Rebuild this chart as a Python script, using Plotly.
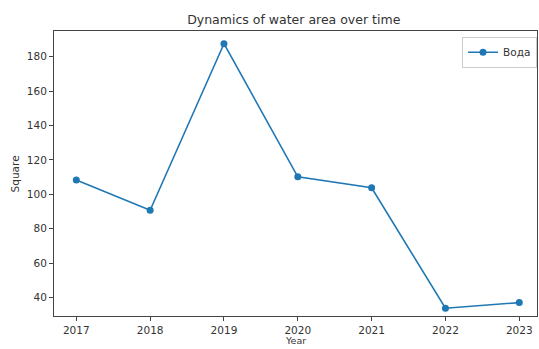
import plotly.graph_objects as go

# Water area by year
years = [2017, 2018, 2019, 2020, 2021, 2022, 2023]
water_area = [108.3, 90.7, 187.6, 110.2, 103.8, 33.7, 37.0]
y_ticks = [40, 60, 80, 100, 120, 140, 160, 180]

FONT = "DejaVu Sans"
TEXT = "#333333"
SPINE = "#444444"

fig = go.Figure()
fig.add_trace(go.Scatter(
    x=years, y=water_area, mode="lines+markers", name="Вода",
    line=dict(color="#1f77b4", width=1.6),
    marker=dict(color="#1f77b4", size=7),
))

axis_common = dict(
    showgrid=False, zeroline=False, showline=True, mirror=True,
    linecolor=SPINE, linewidth=1, ticks="outside", ticklen=4,
    tickcolor=SPINE, tickfont=dict(family=FONT, size=10.5, color=TEXT),
)

fig.update_layout(
    width=539, height=349,
    margin=dict(l=54, r=2, t=31, b=33),
    paper_bgcolor="white", plot_bgcolor="white",
    font=dict(family=FONT, color=TEXT),
    title=dict(text="Dynamics of water area over time", x=0.545, xanchor="center",
               y=0.945, yanchor="middle", font=dict(family=FONT, size=12.5, color=TEXT)),
    xaxis=dict(range=[2016.698, 2023.24], tickvals=years,
               ticktext=[str(y) for y in years], **axis_common),
    yaxis=dict(range=[29.2, 195.0], tickvals=y_ticks, **axis_common),
    legend=dict(x=1.0, xanchor="right", y=0.98, yanchor="top",
                bgcolor="rgba(255,255,255,0.9)", bordercolor="#cccccc", borderwidth=1,
                font=dict(family=FONT, size=10.5, color=TEXT),
                itemwidth=30),
    showlegend=True,
    annotations=[
        dict(text="Year", xref="paper", yref="paper", x=0.5, y=-0.1123,
             xanchor="center", yanchor="bottom", showarrow=False,
             font=dict(family=FONT, size=9.5, color=TEXT)),
        dict(text="Square", xref="paper", yref="paper", x=-0.081, y=0.5,
             xanchor="center", yanchor="middle", textangle=-90, showarrow=False,
             font=dict(family=FONT, size=10.5, color=TEXT)),
    ],
)

fig.write_html("out.html")
